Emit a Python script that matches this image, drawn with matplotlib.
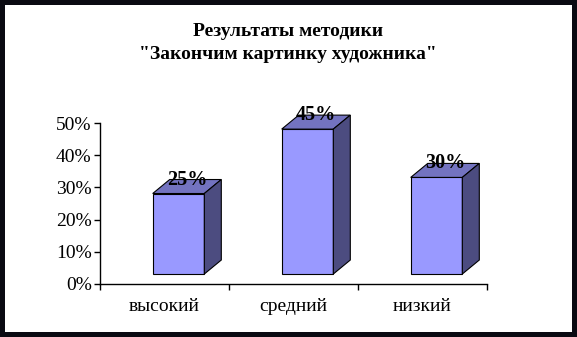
import matplotlib
matplotlib.use("Agg")
import matplotlib.pyplot as plt
from matplotlib.patches import Polygon
from matplotlib.ticker import FixedLocator, FuncFormatter

categories = ["высокий", "средний", "низкий"]
values = [25, 45, 30]
value_labels = ["25%", "45%", "30%"]
yticks = [0, 10, 20, 30, 40, 50]
title = 'Результаты методики\n"Закончим картинку художника"'

W, H = 577, 337
fig = plt.figure(figsize=(W / 100, H / 100), dpi=100)
fig.patch.set_facecolor("white")
fig.patch.set_edgecolor("#0a0a12")
fig.patch.set_linewidth(7.2)

serif = ["Liberation Serif", "DejaVu Serif"]

ax_left, ax_right = 100, 487
ax_y0, ax_y50 = 284, 123
ax = fig.add_axes([ax_left / W, (H - ax_y0) / H, (ax_right - ax_left) / W, (ax_y0 - ax_y50) / H])
ax.set_xlim(-0.5, 2.5)
ax.set_ylim(0, 50)
ax.set_facecolor("none")

px_x = 1.0 / (ax_right - ax_left) * 3  # data units per px in x
px_y = 50.0 / (ax_y0 - ax_y50)         # data units per px in y

shift = 14 * px_x
width = 51.6 * px_x
dx = 17 * px_x
dy = 14 * px_y
base = 3.1

front_c = "#9999FF"
top_c = "#7373C0"
side_c = "#4C4C80"

for i, v in enumerate(values):
    x0 = i + shift - width / 2
    x1 = x0 + width
    b = base
    t = base + v
    ax.bar(i + shift, v, bottom=b, width=width, color=front_c, edgecolor="black",
           linewidth=0.8, zorder=3, clip_on=False)
    ax.add_patch(Polygon([(x0, t), (x1, t), (x1 + dx, t + dy), (x0 + dx, t + dy)],
                         closed=True, facecolor=top_c, edgecolor="black", linewidth=0.8,
                         zorder=3, clip_on=False))
    ax.add_patch(Polygon([(x1, b), (x1 + dx, b + dy), (x1 + dx, t + dy), (x1, t)],
                         closed=True, facecolor=side_c, edgecolor="black", linewidth=0.8,
                         zorder=3, clip_on=False))
    ax.text(i + shift + dx / 2, t + dy, value_labels[i], ha="center", va="center",
            fontsize=14.5, fontweight="bold", family=serif, zorder=5, clip_on=False)

for s in ["top", "right"]:
    ax.spines[s].set_visible(False)
for s in ["left", "bottom"]:
    ax.spines[s].set_color("black")
    ax.spines[s].set_linewidth(1.0)

ax.yaxis.set_major_locator(FixedLocator(yticks))
ax.yaxis.set_major_formatter(FuncFormatter(lambda v, p: f"{int(v)}%"))
ax.tick_params(axis="y", direction="out", length=4, width=1, pad=2, labelsize=14)
for lab in ax.get_yticklabels():
    lab.set_family(serif)

ax.set_xticks(range(len(categories)))
ax.set_xticklabels(categories, family=serif, fontsize=14)
ax.tick_params(axis="x", which="major", length=0, pad=10)
ax.xaxis.set_minor_locator(FixedLocator([-0.5, 0.5, 1.5, 2.5]))
ax.tick_params(axis="x", which="minor", direction="out", length=4, width=1)

fig.text(288 / W, 1 - 43 / H, title, ha="center", va="center", fontsize=14,
         fontweight="bold", family=serif, linespacing=1.5)

fig.savefig("out.png", dpi=100, facecolor=fig.get_facecolor(), edgecolor=fig.get_edgecolor())
